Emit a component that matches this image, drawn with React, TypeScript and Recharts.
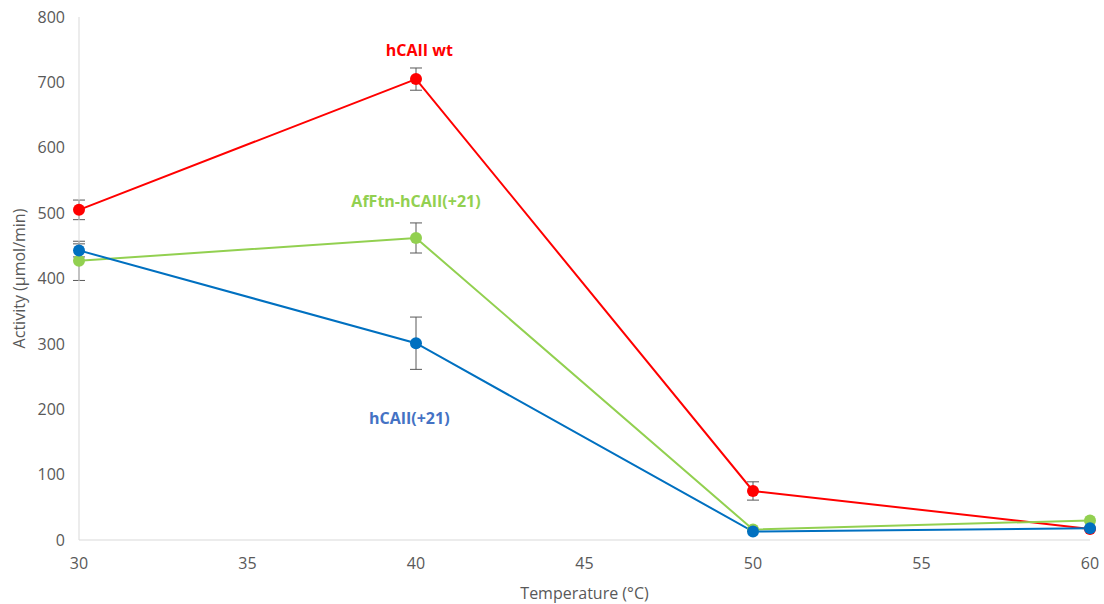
import { LineChart, Line, XAxis, YAxis, ErrorBar, ReferenceDot } from "recharts";

const temps = [30, 40, 50, 60];
const wt = [505, 705, 75, 17];
const wtErr = [15, 17, 14, 0];
const afftn = [427, 462, 16, 30];
const afftnErr = [30, 23, 0, 0];
const plus21 = [443, 301, 13, 18];
const plus21Err = [10, 40, 0, 0];
const xTicks = [30, 35, 40, 45, 50, 55, 60];
const yTicks = [0, 100, 200, 300, 400, 500, 600, 700, 800];

const data = temps.map((t, i) => ({
  t,
  wt: wt[i], wtErr: wtErr[i],
  afftn: afftn[i], afftnErr: afftnErr[i],
  plus21: plus21[i], plus21Err: plus21Err[i],
}));

const FONT = "'Open Sans', 'Noto Sans', sans-serif";
const AXIS = "#d9d9d9";
const TXT = "#595959";

const seriesLabel = (text: string, color: string) => (props: any) => {
  const { viewBox } = props;
  return (
    <text x={viewBox.x} y={viewBox.y} textAnchor="middle" dominantBaseline="central"
      fill={color} fontFamily={FONT} fontSize={16} fontWeight={700}>{text}</text>
  );
};

export default function App() {
  return (
    <div style={{ position: "absolute", left: 0, top: 0, background: "#fff" }}>
      <LineChart width={1104} height={604} data={data}
        margin={{ top: 17, right: 14, bottom: 24, left: 19 }}>
        <XAxis dataKey="t" type="number" domain={[30, 60]} ticks={xTicks}
          stroke={AXIS} tickLine={false} tick={{ fill: TXT, fontSize: 16, fontFamily: FONT }}
          tickMargin={12} height={40}
          label={{ value: "Temperature (°C)", position: "insideBottom", offset: -19, fill: TXT, fontSize: 16, fontFamily: FONT }} />
        <YAxis type="number" domain={[0, 800]} ticks={yTicks} width={60}
          stroke={AXIS} tickLine={false} tick={{ fill: TXT, fontSize: 16, fontFamily: FONT }}
          tickMargin={8}
          label={{ value: "Activity (µmol/min)", angle: -90, position: "insideLeft", offset: 0, fill: TXT, fontSize: 16, fontFamily: FONT, style: { textAnchor: "middle" } }} />
        <Line dataKey="wt" stroke="#ff0000" strokeWidth={2} isAnimationActive={false}
          dot={{ r: 6, fill: "#ff0000", stroke: "none" }}>
          <ErrorBar dataKey="wtErr" direction="y" width={6} stroke={TXT} strokeWidth={1} />
        </Line>
        <Line dataKey="afftn" stroke="#92d050" strokeWidth={2} isAnimationActive={false}
          dot={{ r: 6, fill: "#92d050", stroke: "none" }}>
          <ErrorBar dataKey="afftnErr" direction="y" width={6} stroke={TXT} strokeWidth={1} />
        </Line>
        <Line dataKey="plus21" stroke="#0070c0" strokeWidth={2} isAnimationActive={false}
          dot={{ r: 6, fill: "#0070c0", stroke: "none" }}>
          <ErrorBar dataKey="plus21Err" direction="y" width={6} stroke={TXT} strokeWidth={1} />
        </Line>
        <ReferenceDot x={40.1} y={749} r={0} label={seriesLabel("hCAII wt", "#ff0000")} />
        <ReferenceDot x={40} y={518} r={0} label={seriesLabel("AfFtn-hCAII(+21)", "#92d050")} />
        <ReferenceDot x={39.8} y={186} r={0} label={seriesLabel("hCAII(+21)", "#4472c4")} />
      </LineChart>
    </div>
  );
}
